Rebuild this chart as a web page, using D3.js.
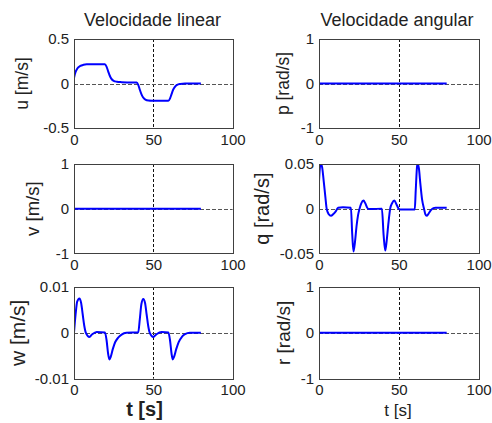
<!DOCTYPE html>
<html>
<head>
<meta charset="utf-8">
<script src="https://cdn.jsdelivr.net/npm/d3@7"></script>
<style>
  body { margin: 0; background: #fff; }
  svg text { font-family: "Liberation Sans", Arial, sans-serif; fill: #222; }
</style>
</head>
<body>
<svg id="chart" width="492" height="423"></svg>
<script>
// Shared time ticks [s]
const xTicks = [0, 50, 100];

// Linear velocity: u [m/s]
const tU = [0, 0.5, 1, 2, 3, 4, 6, 8, 19.5, 20.5, 21.5, 22.5, 23.5, 25, 27, 30, 35, 39.5, 40.5, 41.5, 42.5, 43.5, 45, 47, 50, 55, 59.5, 60.5, 61.5, 62.5, 63.5, 65, 67, 70, 80];
const u = [0.06, 0.1, 0.13, 0.165, 0.185, 0.198, 0.21, 0.215, 0.215, 0.19, 0.14, 0.09, 0.055, 0.03, 0.02, 0.015, 0.012, 0.01, -0.015, -0.07, -0.12, -0.155, -0.18, -0.19, -0.193, -0.195, -0.195, -0.17, -0.12, -0.07, -0.04, -0.015, -0.005, 0, 0];

// v [m/s] stays at zero
const tV = [0, 80];
const v = [0, 0];

// w [m/s]
const tW = [0, 1, 2, 3.4, 4.5, 5.5, 6.5, 7.5, 9.7, 11.5, 14.3, 19.5, 20.5, 21.5, 22.3, 23.2, 24.5, 26, 28, 30, 33, 40.5, 41.5, 42.5, 43.7, 44.8, 45.8, 46.8, 47.8, 50, 52, 55.3, 59.5, 60.5, 61.5, 62.2, 63, 64.5, 66, 68, 70, 73, 80];
const w = [0, 0.004, 0.0068, 0.0075, 0.0065, 0.004, 0.0015, 0, -0.0009, -0.0003, 0.0002, 0.0001, -0.0015, -0.0045, -0.0058, -0.0052, -0.0035, -0.002, -0.001, -0.0004, 0, 0.0001, 0.003, 0.0063, 0.0074, 0.0065, 0.004, 0.0015, 0, -0.0009, -0.0003, 0.0002, 0.0001, -0.0015, -0.0045, -0.0058, -0.0053, -0.0035, -0.002, -0.0009, -0.0003, 0, 0];

// Angular velocity: p [rad/s] stays at zero
const tP = [0, 80];
const p = [0, 0];

// q [rad/s]
const tQ = [0, 0.7, 1.3, 2, 3, 4, 4.8, 6, 7.5, 9, 10.5, 12, 15, 20, 20.8, 21.6, 22.5, 23.5, 24.5, 25.4, 26.5, 27.9, 29, 30.6, 32, 39.4, 40.5, 41.5, 42.4, 43.4, 44.6, 45.8, 47.2, 48.5, 49.9, 51, 55, 60, 60.6, 61.5, 62, 62.6, 63.5, 64.6, 65.8, 66.6, 67.5, 68.5, 70, 71.7, 73, 80];
const q = [0.03, 0.048, 0.05, 0.046, 0.03, 0.013, 0, -0.006, -0.008, -0.006, -0.003, 0.001, 0.0015, 0.001, -0.028, -0.048, -0.038, -0.02, -0.007, 0, 0.006, 0.009, 0.006, 0, -0.0005, 0, -0.03, -0.047, -0.036, -0.018, 0, 0.006, 0.009, 0.005, 0, -0.001, -0.001, -0.001, 0.02, 0.048, 0.05, 0.045, 0.028, 0.01, 0, -0.006, -0.008, -0.006, -0.002, 0.0005, 0.001, 0.001];

// r [rad/s] stays at zero
const tR = [0, 80];
const r = [0, 0];

// Y tick values per panel
const ticksU = [-0.5, 0, 0.5];
const ticksUnit = [-1, 0, 1];
const ticksW = [-0.01, 0, 0.01];
const ticksQ = [-0.05, 0, 0.05];

const svg = d3.select("#chart");

// Column titles
svg.append("text").attr("x", 152.5).attr("y", 26).attr("text-anchor", "middle")
  .style("font-size", "18px").text("Velocidade linear");
svg.append("text").attr("x", 397).attr("y", 26).attr("text-anchor", "middle")
  .style("font-size", "18px").text("Velocidade angular");

// Panel layout (pixel boxes) + the data each one shows
const panels = [
  { id: "u", t: tU, y: u, ticks: ticksU, label: "u [m/s]", labelSize: 17.5, labelX: 28,
    left: 74, right: 232.6, top: 39, bottom: 128 },
  { id: "v", t: tV, y: v, ticks: ticksUnit, label: "v [m/s]", labelSize: 18.5, labelX: 39,
    left: 74, right: 232.6, top: 164, bottom: 253.3 },
  { id: "w", t: tW, y: w, ticks: ticksW, label: "w [m/s]", labelSize: 21, labelX: 25,
    left: 74, right: 232.6, top: 287, bottom: 378.7, xlabel: "t [s]", xlabelBold: true, xlabelX: 144.5, xlabelSize: 20 },
  { id: "p", t: tP, y: p, ticks: ticksUnit, label: "p [rad/s]", labelSize: 17.5, labelX: 289,
    left: 319, right: 478.6, top: 39, bottom: 128 },
  { id: "q", t: tQ, y: q, ticks: ticksQ, label: "q [rad/s]", labelSize: 20, labelX: 269,
    left: 319, right: 478.6, top: 164, bottom: 253.3 },
  { id: "r", t: tR, y: r, ticks: ticksUnit, label: "r [rad/s]", labelSize: 19, labelX: 290,
    left: 319, right: 478.6, top: 287, bottom: 378.7, xlabel: "t [s]", xlabelBold: false, xlabelX: 398, xlabelSize: 17 }
];

const defs = svg.append("defs");

function drawPanel(cfg) {
  const xScale = d3.scaleLinear().domain([0, 100]).range([cfg.left, cfg.right]);
  const yScale = d3.scaleLinear().domain(d3.extent(cfg.ticks)).range([cfg.bottom, cfg.top]);
  const g = svg.append("g");

  defs.append("clipPath").attr("id", "clip-" + cfg.id)
    .append("rect")
    .attr("x", cfg.left).attr("y", cfg.top)
    .attr("width", cfg.right - cfg.left).attr("height", cfg.bottom - cfg.top);

  // dashed grid at the inner ticks
  g.selectAll(".vgrid").data(xTicks.slice(1, -1)).enter().append("line")
    .attr("x1", d => Math.round(xScale(d)) + 0.5).attr("x2", d => Math.round(xScale(d)) + 0.5)
    .attr("y1", cfg.top).attr("y2", cfg.bottom)
    .attr("stroke", "#111").attr("stroke-dasharray", "3,2");
  g.selectAll(".hgrid").data(cfg.ticks.slice(1, -1)).enter().append("line")
    .attr("x1", cfg.left).attr("x2", cfg.right)
    .attr("y1", d => Math.round(yScale(d)) + 0.5).attr("y2", d => Math.round(yScale(d)) + 0.5)
    .attr("stroke", "#555").attr("stroke-dasharray", "4,2");

  // the signal
  const pts = cfg.t.map((t, i) => [t, cfg.y[i]]);
  const line = d3.line().x(d => xScale(d[0])).y(d => yScale(d[1])).curve(d3.curveMonotoneX);
  g.append("path").datum(pts)
    .attr("clip-path", "url(#clip-" + cfg.id + ")")
    .attr("d", line)
    .attr("fill", "none").attr("stroke", "#0000ff").attr("stroke-width", 2)
    .attr("stroke-linejoin", "round");

  // box
  g.append("rect")
    .attr("x", Math.round(cfg.left) + 0.5).attr("y", Math.round(cfg.top) + 0.5)
    .attr("width", Math.round(cfg.right - cfg.left)).attr("height", Math.round(cfg.bottom - cfg.top))
    .attr("fill", "none").attr("stroke", "#404040");

  // axes (labels only, the box does the frame)
  const xAxis = g.append("g").attr("transform", `translate(0,${cfg.bottom})`)
    .call(d3.axisBottom(xScale).tickValues(xTicks).tickSize(0).tickPadding(6));
  const yAxis = g.append("g").attr("transform", `translate(${cfg.left},0)`)
    .call(d3.axisLeft(yScale).tickValues(cfg.ticks).tickSize(0).tickPadding(5).tickFormat(d => String(d)));
  [xAxis, yAxis].forEach(a => {
    a.select(".domain").remove();
    a.attr("font-family", null).attr("font-size", null);
    a.selectAll("text").style("font-size", "15px").attr("fill", "#222");
  });

  // y label
  g.append("text")
    .attr("transform", `translate(${cfg.labelX},${(cfg.top + cfg.bottom) / 2}) rotate(-90)`)
    .attr("text-anchor", "middle")
    .style("font-size", cfg.labelSize + "px")
    .text(cfg.label);

  // x label
  if (cfg.xlabel) {
    g.append("text")
      .attr("x", cfg.xlabelX).attr("y", 416)
      .attr("text-anchor", "middle")
      .style("font-size", cfg.xlabelSize + "px")
      .style("font-weight", cfg.xlabelBold ? "bold" : "normal")
      .text(cfg.xlabel);
  }
}

panels.forEach(drawPanel);
</script>
</body>
</html>
